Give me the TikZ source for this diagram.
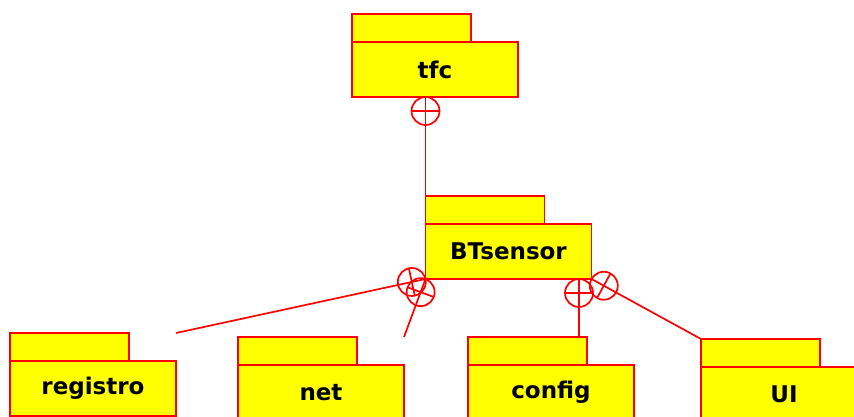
\documentclass[tikz,border=0pt]{standalone}
\usepackage{fontspec}
\setmainfont{DejaVu Sans}
\usetikzlibrary{calc}

\definecolor{pkgred}{RGB}{255,0,0}
\definecolor{pkgyellow}{RGB}{255,255,0}

\tikzset{
  pkgbody/.style={draw=pkgred, fill=pkgyellow, line width=1.9pt, outer sep=0pt,
    minimum width=166pt, minimum height=55pt, inner sep=0pt,
    font=\fontsize{23}{26}\selectfont\bfseries},
  pkgtab/.style={draw=pkgred, fill=pkgyellow, line width=1.9pt, outer sep=0pt,
    minimum width=119pt, minimum height=28pt, inner sep=0pt, anchor=south west},
  link/.style={draw=pkgred, line width=1.7pt},
}

% containment link: #1 = point on the owning package, #2 = point on the nested package
\newcommand\nestlink[2]{%
  \draw[link] (#2) -- (#1);
  \coordinate (nc) at ($(#1)!14pt!(#2)$);
  \draw[link] (nc) circle[radius=14pt];
  \draw[link] ($(nc)!14pt!90:(#2)$) -- ($(nc)!14pt!-90:(#2)$);
}

\begin{document}
\begin{tikzpicture}[x=1pt, y=-1pt]
  \useasboundingbox[fill=white] (0,0) rectangle (854,416);
  \clip (0,0) rectangle (854,416);

  % packages: body with its name, tab on top-left
  \node[pkgbody] (tfc) at (435,69.5) {tfc};
  \node[pkgtab] (tfc-tab) at (tfc.north west) {};

  \node[pkgbody] (bt) at (508.5,251.5) {BTsensor};
  \node[pkgtab] (bt-tab) at (bt.north west) {};

  \node[pkgbody] (reg) at (93,388.5) {registro};
  \node[pkgtab] (reg-tab) at (reg.north west) {};

  \node[pkgbody] (net) at (321,392.5) {net};
  \node[pkgtab] (net-tab) at (net.north west) {};

  \node[pkgbody] (cfg) at (551,392.5) {config};
  \node[pkgtab] (cfg-tab) at (cfg.north west) {};

  \node[pkgbody] (ui) at (784,394.5) {UI};
  \node[pkgtab] (ui-tab) at (ui.north west) {};

  % connector end points
  \coordinate (tfc-att) at (bt-tab.north west |- tfc.south);
  \coordinate (reg-end) at (reg.east |- reg-tab.north);
  \coordinate (net-end) at (net.east |- net-tab.north);
  \coordinate (cfg-end) at ([xshift=-8pt]cfg-tab.north east);
  \coordinate (cfg-att) at (cfg-end |- bt.south);

  % nesting links
  \nestlink{tfc-att}{bt-tab.north west}
  \nestlink{bt.south west}{reg-end}
  \nestlink{bt.south west}{net-end}
  \nestlink{cfg-att}{cfg-end}
  \nestlink{bt.south east}{ui-tab.north west}
\end{tikzpicture}
\end{document}
